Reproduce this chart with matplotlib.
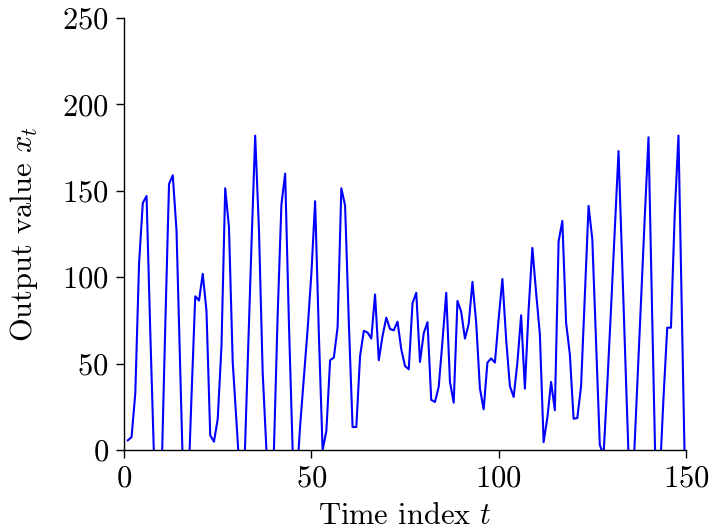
import matplotlib
matplotlib.use("Agg")
import matplotlib.pyplot as plt

# time index t = 1..150 (points below 0 are clipped by ylim)
t = list(range(1, 151))
x_t = [
    5.6, 7.5, 33, 108, 143, 147, 68, -5, -20, -15,
    72, 154, 159, 127, 45, -35, -30, 31, 89, 86.5,
    102, 80.5, 8.5, 4.8, 18, 60, 151.5, 129, 51, 16,
    -18, -18, 50, 118, 182, 128, 45, 0, -20, 0,
    78, 142, 160, 74, 0, -20, 14, 42, 70, 102,
    144, 67, 0, 11, 52, 53.5, 71, 151.5, 141.5, 74,
    13.3, 13.3, 54.4, 69, 68, 64.5, 90, 52, 66, 76.6,
    70, 69.3, 74.3, 58.3, 48.6, 46.7, 85, 91, 51, 67.6,
    74, 29, 27.8, 36.7, 63, 91, 39.4, 27.4, 86.3, 80,
    64.5, 73, 97.3, 73.7, 35.5, 23.6, 50.6, 53, 50.6, 76,
    99, 64, 37, 30.7, 50.6, 78, 35.5, 81.5, 117, 91,
    67, 4.6, 18.7, 39.4, 23, 120.7, 132.6, 73.7, 55.4, 18.1,
    18.5, 37, 89, 141.3, 122, 63, 3, -3, 38, 82,
    128, 173, 105.6, 40, -24, -11, 37.6, 86, 134.6, 181,
    76, -25, -16, 30, 70.8, 70.8, 136.5, 182, 68, -45,
]

x_ticks = [0, 50, 100, 150]
y_ticks = [0, 50, 100, 150, 200, 250]

plt.rcParams["font.family"] = "serif"
plt.rcParams["font.serif"] = ["cmr10"]
plt.rcParams["mathtext.fontset"] = "cm"
plt.rcParams["axes.formatter.use_mathtext"] = True

fig = plt.figure(figsize=(7.09, 5.31), dpi=100)
ax = fig.add_axes([0.175, 0.1525, 0.7925, 0.8135])

ax.plot(t, x_t, color="#0000ff", lw=1.5)

ax.set_xlim(0, 150)
ax.set_ylim(0, 250)
ax.set_xticks(x_ticks)
ax.set_yticks(y_ticks)
ax.tick_params(labelsize=22, length=6, width=1, pad=5)
for side in ("top", "right"):
    ax.spines[side].set_visible(False)
for side in ("left", "bottom"):
    ax.spines[side].set_linewidth(1)

ax.set_xlabel(r"Time index $t$", fontsize=22, labelpad=7)
ax.set_ylabel(r"Output value $x_t$", fontsize=22, labelpad=16)

fig.savefig("out.png", dpi=100)
